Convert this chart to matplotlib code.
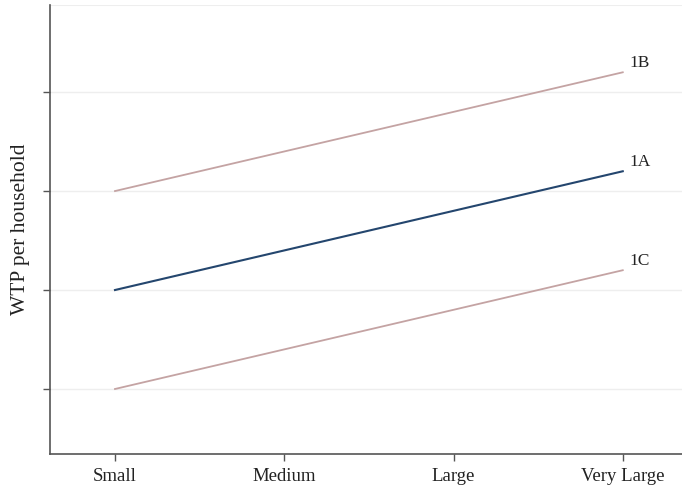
import matplotlib
matplotlib.use("Agg")
import matplotlib.pyplot as plt

categories = ["Small", "Medium", "Large", "Very Large"]
x_pos = [1, 2, 3, 4]
series_1A = [2.0, 2.4, 2.8, 3.2]
series_1B = [3.0, 3.4, 3.8, 4.2]
series_1C = [1.0, 1.4, 1.8, 2.2]
ytick_vals = [1, 2, 3, 4]

plt.rcParams['font.family'] = ['Liberation Serif', 'DejaVu Serif']

fig = plt.figure(figsize=(6.82, 4.88), dpi=100)
ax = fig.add_axes([50/682, 1-454/488, (682-50)/682, (454-5)/488])

pink = "#c4a3a3"
navy = "#24466e"
ax.plot(x_pos, series_1B, color=pink, lw=1.3, zorder=3)
ax.plot(x_pos, series_1A, color=navy, lw=1.5, zorder=3)
ax.plot(x_pos, series_1C, color=pink, lw=1.3, zorder=3)

for name, s in [("1B", series_1B), ("1A", series_1A), ("1C", series_1C)]:
    ax.annotate(name, xy=(x_pos[-1], s[-1]), xytext=(5, 1), textcoords="offset points",
                ha="left", va="bottom", fontsize=12.5, color="#222222")

ax.set_xlim(0.616, 4.35)
ax.set_ylim(0.343, 4.88)
ax.set_xticks(x_pos)
ax.set_xticklabels(categories, fontsize=13.5)
ax.set_yticks(ytick_vals)
ax.set_yticklabels([])
ax.grid(axis="y", color="#eeeeee", lw=1.0)
ax.axhline(4.88, color="#eeeeee", lw=1.5)
ax.set_axisbelow(True)
for sp in ["top", "right"]:
    ax.spines[sp].set_visible(False)
for sp in ["left", "bottom"]:
    ax.spines[sp].set_color("#555555")
    ax.spines[sp].set_linewidth(1.2)
ax.tick_params(axis="both", color="#555555", length=5, width=1)
ax.tick_params(axis="x", pad=5, labelcolor="#222222")
ax.set_ylabel("WTP per household", fontsize=15.5, color="#222222")
ax.yaxis.set_label_coords(-0.032, 0.5)

fig.savefig("out.png", dpi=100)
